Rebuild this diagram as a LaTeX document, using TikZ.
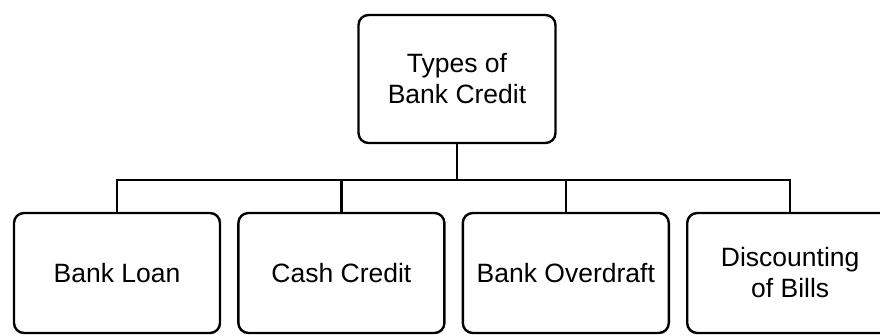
\documentclass[tikz,border=0pt]{standalone}
\usepackage{fontspec}
\setmainfont{Liberation Sans}
\usetikzlibrary{positioning}

\begin{document}
\begin{tikzpicture}[
  x=1pt, y=1pt,
  font=\fontsize{26.5}{31}\selectfont,
  box/.style={draw, line width=2.4pt, rounded corners=10pt, align=center, minimum width=206pt, minimum height=120pt, inner sep=2pt},
  link/.style={line width=2.4pt}
]
  \useasboundingbox (0,0) rectangle (880,335);

  \node[box, minimum width=197pt, minimum height=128pt] (types) at (457,256) {Types of\\Bank Credit};

  \node[box] (loan) at (117,62) {Bank Loan};
  \node[box, right=16pt of loan] (cash) {Cash Credit};
  \node[box, right=16pt of cash] (draft) {Bank Overdraft};
  \node[box, right=16pt of draft] (bills) {Discounting\\of Bills};

  \coordinate (bar) at (457,155);
  \draw[link] (types) -- (bar);
  \foreach \n in {loan,cash,draft,bills}
    \draw[link] (bar) -| (\n.north);
\end{tikzpicture}
\end{document}
